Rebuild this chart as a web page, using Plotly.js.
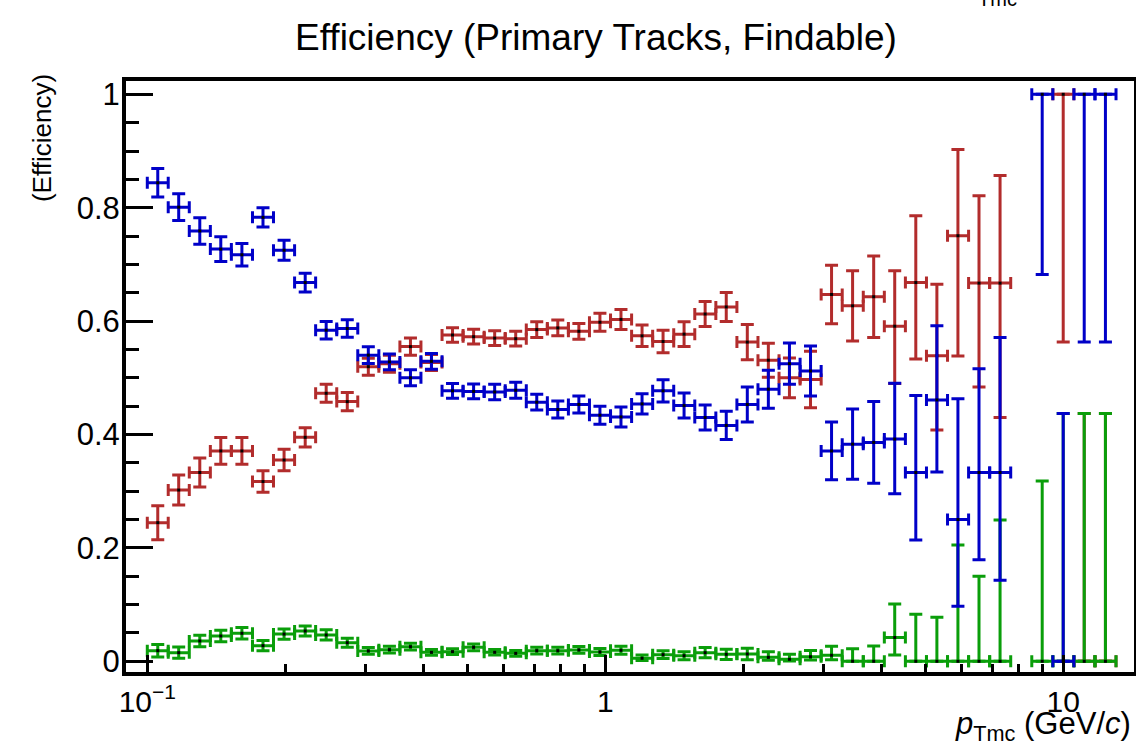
<!DOCTYPE html>
<html><head><meta charset="utf-8">
<script src="https://cdn.plot.ly/plotly-3.0.1.min.js"></script>
<style>html,body{margin:0;padding:0;background:#fff}#chart{width:1136px;height:748px}</style>
</head><body><div id="chart"></div>
<script>
// bin centres (p_Tmc, GeV/c) and bin edges
const ptCenters = [0.1054,0.1171,0.1302,0.1447,0.1609,0.1789,0.1989,0.2212,0.2458,0.2733,
  0.3038,0.3378,0.3755,0.4173,0.4639,0.5158,0.5734,0.6374,0.7085,0.7876,
  0.8756,0.9734,1.082,1.203,1.337,1.486,1.652,1.837,2.042,2.270,
  2.524,2.806,3.119,3.467,3.855,4.285,4.764,5.297,5.888,6.546,
  7.277,8.090,8.994,9.996,11.11,12.36];
const binEdges = [0.1000,0.1111,0.1235,0.1373,0.1526,0.1697,0.1886,0.2097,0.2331,0.2592,
  0.2881,0.3203,0.3561,0.3958,0.4401,0.4892,0.5439,0.6046,0.6722,0.7473,
  0.8307,0.9235,1.0267,1.1414,1.2689,1.4106,1.5682,1.7433,1.9381,2.1546,
  2.3952,2.6628,2.9602,3.2909,3.6585,4.0671,4.5214,5.0265,5.5879,6.2121,
  6.9060,7.6774,8.5350,9.4884,10.548,11.727,13.036];

// blue series
const effBlue = [0.844,0.801,0.759,0.727,0.717,0.783,0.725,0.668,0.584,0.587,
  0.540,0.528,0.500,0.529,0.477,0.476,0.475,0.478,0.457,0.444,
  0.453,0.434,0.431,0.454,0.477,0.451,0.430,0.416,0.453,0.480,
  0.525,0.512,0.371,0.383,0.386,0.392,0.333,0.461,0.250,0.333,
  0.333,null,1.0,0.0,1.0,1.0];
const errBlueUp = [0.025,0.0235,0.0235,0.022,0.020,0.017,0.0176,0.0165,0.0155,0.0155,
  0.0147,0.014,0.014,0.014,0.013,0.013,0.0135,0.014,0.014,0.015,
  0.015,0.016,0.0176,0.018,0.0195,0.022,0.022,0.025,0.031,0.0335,
  0.0365,0.044,0.051,0.062,0.072,0.0985,0.136,0.131,0.213,0.183,
  0.238,null,0,0.437,0,0];
const errBlueDown = [0.025,0.0235,0.0235,0.022,0.020,0.017,0.0176,0.0165,0.0155,0.0155,
  0.0147,0.014,0.014,0.014,0.013,0.013,0.0135,0.014,0.014,0.015,
  0.015,0.016,0.0176,0.018,0.0195,0.022,0.022,0.025,0.031,0.0335,
  0.0365,0.044,0.051,0.062,0.072,0.0965,0.119,0.127,0.153,0.154,
  0.190,null,0.318,0,0.437,0.437];

// red series
const effRed = [0.2445,0.302,0.333,0.371,0.371,0.317,0.355,0.395,0.4727,0.458,
  0.5196,0.525,0.555,0.527,0.5755,0.5725,0.570,0.569,0.585,0.588,
  0.582,0.598,0.603,0.574,0.564,0.577,0.6125,0.625,0.563,0.531,
  0.500,0.497,0.647,0.627,0.643,0.591,0.668,0.539,0.7506,0.667,
  0.667,null,null,1.0,0.0,0.0];
const errRedUp = [0.030,0.0265,0.0255,0.0235,0.0235,0.019,0.019,0.017,0.016,0.016,
  0.015,0.015,0.015,0.014,0.013,0.013,0.013,0.013,0.014,0.014,
  0.014,0.016,0.0176,0.019,0.020,0.022,0.022,0.0255,0.031,0.030,
  0.035,0.050,0.0515,0.062,0.072,0.098,0.118,0.126,0.152,0.154,
  0.190,null,null,0,0.437,0.437];
const errRedDown = [0.030,0.0265,0.0255,0.0235,0.0235,0.019,0.019,0.017,0.016,0.016,
  0.015,0.015,0.015,0.014,0.013,0.013,0.013,0.013,0.014,0.014,
  0.014,0.016,0.0176,0.019,0.020,0.022,0.022,0.0255,0.031,0.030,
  0.035,0.050,0.0515,0.062,0.072,0.101,0.135,0.131,0.212,0.183,
  0.237,null,null,0.437,0,0];

// green series
const effGreen = [0.0187,0.0152,0.0358,0.0446,0.0494,0.0276,0.048,0.0534,0.0464,0.0328,
  0.0182,0.0205,0.0258,0.0158,0.017,0.0247,0.0159,0.014,0.0187,0.0187,
  0.020,0.0164,0.0194,0.0053,0.0117,0.0099,0.0152,0.0123,0.0129,0.007,
  0.0035,0.0081,0.0106,0,0,0.042,0,0,0,0,
  0,null,0,0,0,0];
const errGreenUp = [0.011,0.010,0.010,0.010,0.010,0.009,0.009,0.009,0.009,0.008,
  0.006,0.006,0.006,0.005,0.005,0.006,0.005,0.005,0.006,0.006,
  0.006,0.006,0.007,0.006,0.007,0.007,0.009,0.009,0.010,0.010,
  0.009,0.011,0.016,0.022,0.027,0.059,0.083,0.0776,0.205,0.150,
  0.249,null,0.318,0.437,0.437,0.437];
const errGreenDown = [0.011,0.010,0.010,0.010,0.010,0.009,0.009,0.009,0.009,0.008,
  0.006,0.006,0.006,0.005,0.005,0.006,0.005,0.005,0.006,0.006,
  0.006,0.006,0.007,0.004,0.007,0.007,0.009,0.009,0.010,0.005,
  0.003,0.006,0.008,0,0,0.031,0,0,0,0,
  0,null,0,0,0,0];

// axis tick labels
const xTickVals = [0.1, 1, 10];
const xTickText = ['10<sup>\u22121</sup>', '1', '10'];
const xMinorVals = [0.2,0.3,0.4,0.5,0.6,0.7,0.8,0.9,2,3,4,5,6,7,8,9];
const yTickVals = [0, 0.2, 0.4, 0.6, 0.8, 1];
const yTickText = ['0', '0.2', '0.4', '0.6', '0.8', '1'];

const xPlus = ptCenters.map((c, i) => binEdges[i + 1] - c);
const xMinus = ptCenters.map((c, i) => c - binEdges[i]);

function series(y, up, down, color, name) {
  return {
    type: 'scatter', mode: 'markers', name: name,
    x: ptCenters, y: y,
    marker: {symbol: 'square', size: 3, color: '#000000'},
    error_y: {type: 'data', symmetric: false, array: up, arrayminus: down,
      color: color, thickness: 3, width: 6.5, visible: true},
    error_x: {type: 'data', symmetric: false, array: xPlus, arrayminus: xMinus,
      color: color, thickness: 3, width: 6, visible: true},
    hoverinfo: 'skip', showlegend: false
  };
}

const FONT = 'Liberation Sans, Arial, Helvetica, sans-serif';
const data = [
  series(effRed, errRedUp, errRedDown, '#b22c2c', 'red'),
  series(effGreen, errGreenUp, errGreenDown, '#0a9e0a', 'green'),
  series(effBlue, errBlueUp, errBlueDown, '#0000c8', 'blue')
];

const layout = {
  width: 1136, height: 748,
  margin: {l: 126, r: 2, t: 81, b: 76, pad: 0},
  paper_bgcolor: '#ffffff', plot_bgcolor: '#ffffff',
  font: {family: FONT, color: '#000000', size: 28},
  title: {text: 'Efficiency (Primary Tracks, Findable)', font: {family: FONT, size: 37, color: '#000'},
    xref: 'container', yref: 'container', x: 0.5246, y: 0.951, xanchor: 'center', yanchor: 'middle'},
  xaxis: {
    type: 'log', range: [-1.0465, 1.1544], autorange: false,
    showline: true, linecolor: '#000', linewidth: 4, mirror: true,
    showgrid: false, zeroline: false,
    tickmode: 'array', tickvals: xTickVals, ticktext: xTickText,
    ticks: 'inside', ticklen: 17, tickwidth: 3, tickcolor: '#000',
    tickfont: {family: FONT, size: 30, color: '#000'},
    minor: {tickmode: 'array', tickvals: xMinorVals, ticks: 'inside', ticklen: 8, tickwidth: 3, tickcolor: '#000', showgrid: false}
  },
  yaxis: {
    range: [-0.0189, 1.0235], autorange: false,
    showline: true, linecolor: '#000', linewidth: 4, mirror: true,
    showgrid: false, zeroline: false,
    tickmode: 'array', tickvals: yTickVals, ticktext: yTickText,
    ticks: 'inside', ticklen: 27, tickwidth: 3, tickcolor: '#000',
    ticklabelstandoff: -4,
    tickfont: {family: FONT, size: 31, color: '#000'},
    minor: {tickmode: 'linear', tick0: 0, dtick: 0.05, ticks: 'inside', ticklen: 13, tickwidth: 3, tickcolor: '#000', showgrid: false}
  },
  annotations: [
    {text: '(Efficiency)', textangle: -90, xref: 'paper', yref: 'paper',
      x: -0.0833, y: 1.0152, xanchor: 'center', yanchor: 'top', showarrow: false,
      font: {family: FONT, size: 26, color: '#000'}},
    {text: '<i>p</i><sub>Tmc</sub> (GeV/<i>c</i>)', xref: 'paper', yref: 'paper',
      x: 0.999, y: -0.092, xanchor: 'right', yanchor: 'middle', showarrow: false,
      font: {family: FONT, size: 31, color: '#000'}},
    {text: 'Tmc', xref: 'paper', yref: 'paper', x: 0.865, y: 1.1168,
      xanchor: 'center', yanchor: 'bottom', showarrow: false,
      font: {family: FONT, size: 20, color: '#000'}}
  ]
};

Plotly.newPlot('chart', data, layout, {displayModeBar: false, staticPlot: true});
</script>
</body></html>
